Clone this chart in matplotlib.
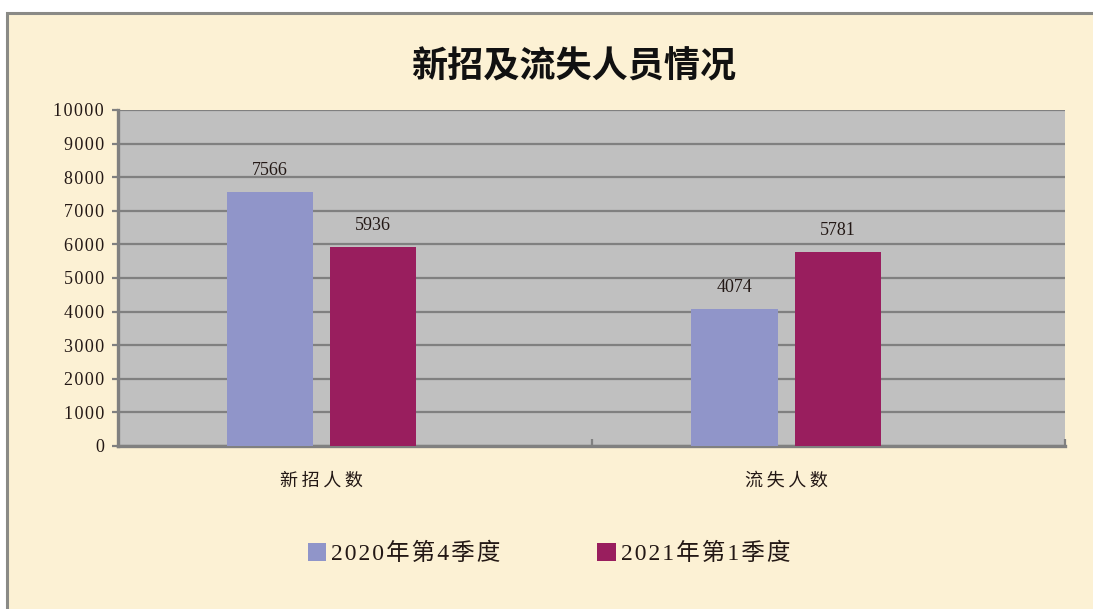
import numpy as np
import matplotlib
matplotlib.use("Agg")
import matplotlib.pyplot as plt
from matplotlib.patches import Rectangle
from matplotlib.ticker import FuncFormatter

# data
categories = ["新招人数", "流失人数"]
series_names = ["2020年第4季度", "2021年第1季度"]
q4_2020 = [7566, 4074]
q1_2021 = [5936, 5781]
y_ticks = [0, 1000, 2000, 3000, 4000, 5000, 6000, 7000, 8000, 9000, 10000]

fonts = ["Liberation Serif", "Noto Sans CJK SC"]
text_color = "#231815"
bg = "#fcf1d4"
colors = ["#9095c9", "#991e5e"]


def spaced(s, sep="\u2009"):
    return sep.join(s)


fig = plt.figure(figsize=(10.93, 6.09), dpi=100)
fig.patch.set_facecolor("white")

# parchment frame with grey border
frame = Rectangle((7 / 1093, -0.05), 1.1, (609 - 13) / 609 + 0.05,
                  transform=fig.transFigure, facecolor=bg,
                  edgecolor="#8a8a86", linewidth=2.2, zorder=-5)
fig.patches.append(frame)

ax = fig.add_axes([118 / 1093, (609 - 446) / 609, (1065 - 118) / 1093, (446 - 110) / 609])
ax.set_zorder(2)
ax.set_facecolor("#c0c0c0")

x = np.arange(len(categories))
w = 0.186
off = 0.111
b1 = ax.bar(x - off, q4_2020, w, color=colors[0], label=series_names[0], zorder=3)
b2 = ax.bar(x + off, q1_2021, w, color=colors[1], label=series_names[1], zorder=3)

for bars, vals in ((b1, q4_2020), (b2, q1_2021)):
    for r, v in zip(bars, vals):
        ax.text(r.get_x() + r.get_width() / 2, v + 380, str(v), ha="center", va="bottom",
                fontsize=13, color=text_color, family=fonts)

ax.set_xlim(-0.438, 1.600)
ax.set_ylim(0, 10000)
ax.set_yticks(y_ticks)
ax.yaxis.set_major_formatter(FuncFormatter(lambda v, p: spaced(str(int(v)), "\u200a")))
ax.grid(axis="y", color="#808080", linewidth=1.6, zorder=1)
ax.set_axisbelow(True)

for lab in ax.get_yticklabels():
    lab.set_family(fonts)
ax.tick_params(axis="y", labelsize=13, colors="#808080", labelcolor=text_color,
               length=4, width=1.6, pad=6)

ax.set_xticks(x)
ax.set_xticklabels([spaced(c) for c in categories])
for lab in ax.get_xticklabels():
    lab.set_family(fonts)
ax.tick_params(axis="x", labelsize=13, labelcolor=text_color, length=0, pad=19)
ax.set_xticks([0.581, 1.600], minor=True)
ax.tick_params(axis="x", which="minor", direction="in", length=5, width=1.6, colors="#808080")

for s in ("top", "right"):
    ax.spines[s].set_visible(False)
for s in ("left", "bottom"):
    ax.spines[s].set_color("#808080")
    ax.spines[s].set_linewidth(2.4)

fig.text(574 / 1093, 1 - 68 / 609, "新招及流失人员情况", ha="center", va="center",
         fontsize=26, fontweight="bold", color="#111111", family=fonts)

leg = fig.legend(handles=[b1, b2], labels=[spaced(s, "\u200a") for s in series_names],
                 loc="center", bbox_to_anchor=(549 / 1093, 1 - 554 / 609), ncol=2,
                 frameon=False, handlelength=0.8, handleheight=0.8, handletextpad=0.2,
                 columnspacing=4.1, prop={"family": fonts, "size": 17})
for t in leg.get_texts():
    t.set_color(text_color)

fig.savefig("out.png", dpi=100, facecolor=fig.get_facecolor())
